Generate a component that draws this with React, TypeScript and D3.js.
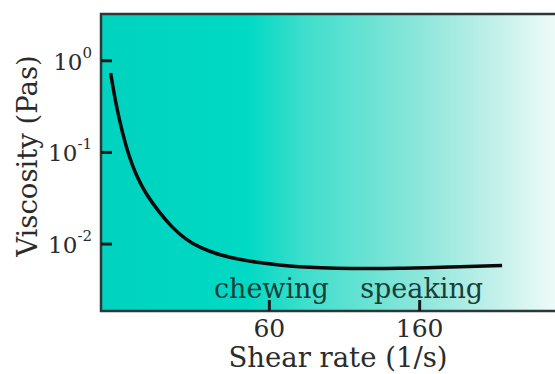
import React from "react";
import * as d3 from "d3";

const shearRate = [21.3, 22.0, 23.0, 24.0, 25.1, 26.8, 29.2, 31.8, 34.8, 38.0, 43.3, 49.3, 56.2, 64.0, 73.0, 83.2, 101, 140, 195, 274];
const viscosity = [0.734, 0.346, 0.163, 0.0913, 0.0574, 0.0352, 0.0224, 0.0152, 0.0112, 0.00917, 0.00759, 0.00681, 0.00625, 0.0059, 0.00566, 0.00552, 0.00541, 0.00541, 0.00561, 0.00583];
const xTicks = [60, 160];
const yTickExp = [0, -1, -2];
const annotations = [
  { x: 60, label: "chewing" },
  { x: 160, label: "speaking" },
];

const W = 555;
const H = 374;
const L = 101;
const T = 14;
const R = 555;
const B = 311;
const FONT = "'DejaVu Serif', serif";

export default function App() {
  const x = d3.scaleLog().domain([20, 387]).range([L, R]);
  const y = d3.scaleLog().domain([Math.pow(10, -2.73), Math.pow(10, 0.51)]).range([B, T]);
  const pts: [number, number][] = shearRate.map((s, i) => [s, viscosity[i]]);
  const line = d3
    .line<[number, number]>()
    .x((d) => x(d[0]))
    .y((d) => y(d[1]))
    .curve(d3.curveBasis);

  return (
    <svg
      width={W}
      height={H}
      style={{ position: "absolute", left: 0, top: 0, background: "#fff" }}
      fontFamily={FONT}
    >
      <defs>
        <linearGradient id="bg" x1={L} x2={R} y1={0} y2={0} gradientUnits="userSpaceOnUse">
          <stop offset="0" stopColor="#00d3bf" />
          <stop offset="0.32" stopColor="#00d9c4" />
          <stop offset="0.45" stopColor="#3fdecc" />
          <stop offset="0.7" stopColor="#8ce6da" />
          <stop offset="0.88" stopColor="#c6f1eb" />
          <stop offset="1" stopColor="#eefbf8" />
        </linearGradient>
      </defs>
      <rect x={L} y={T} width={R - L} height={B - T} fill="url(#bg)" />
      <path
        d={`M${R},${T} L${L},${T} L${L},${B} L${R},${B}`}
        fill="none"
        stroke="#2a3838"
        strokeWidth={2.5}
      />
      {yTickExp.map((e) => {
        const yy = y(Math.pow(10, e));
        return (
          <g key={e}>
            <line x1={L} x2={L + 11} y1={yy} y2={yy} stroke="#1a1a1a" strokeWidth={3} />
            <text x={92} y={yy + 9} textAnchor="end" fontSize={23} fill="#2b2b2b">
              10
              <tspan fontSize={15} dy={-12}>
                {e}
              </tspan>
            </text>
          </g>
        );
      })}
      {xTicks.map((t) => (
        <g key={t}>
          <line x1={x(t)} x2={x(t)} y1={B} y2={B - 11} stroke="#1a1a1a" strokeWidth={3} />
          <text x={x(t)} y={337} textAnchor="middle" fontSize={25} fill="#2b2b2b">
            {t}
          </text>
        </g>
      ))}
      {annotations.map((a) => (
        <text key={a.label} x={x(a.x) + 2} y={298} textAnchor="middle" fontSize={27} fill="#163f3b">
          {a.label}
        </text>
      ))}
      <path d={line(pts) || ""} fill="none" stroke="#0a0a0a" strokeWidth={3.5} />
      <text x={338} y={367} textAnchor="middle" fontSize={27.5} fill="#2b2b2b">
        Shear rate (1/s)
      </text>
      <text
        transform={`translate(37,156) rotate(-90)`}
        textAnchor="middle"
        fontSize={27.5}
        fill="#2b2b2b"
      >
        Viscosity (Pas)
      </text>
    </svg>
  );
}
